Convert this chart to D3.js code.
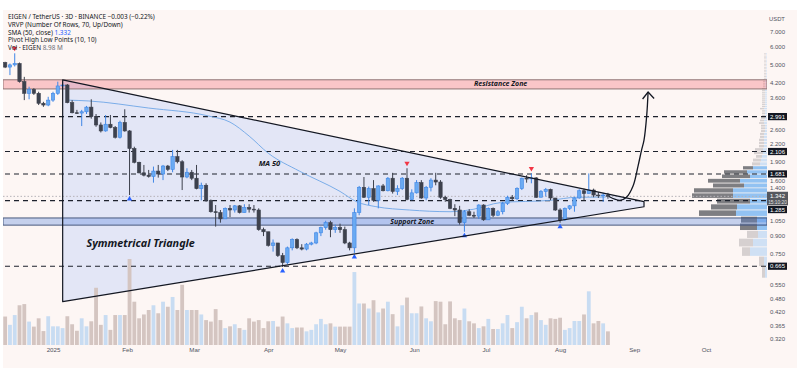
<!DOCTYPE html>
<html><head><meta charset="utf-8">
<script src="https://cdn.jsdelivr.net/npm/d3@7"></script>
<style>html,body{margin:0;padding:0;background:#fff}svg{display:block}</style>
</head><body>
<svg id="chart" width="800" height="381"></svg>
<script>
// ---------------- DATA ----------------
const firstCandleDate = "2024-12-12";
const candleStepDays = 2;
const candleOpen = [5.15,4.92,5.03,5.10,4.25,3.78,3.93,3.78,3.42,3.36,
 3.53,3.78,4.07,4.11,3.44,3.11,3.10,3.14,3.29,2.99,
 2.75,2.59,2.77,2.68,2.43,2.82,2.59,2.17,1.89,1.70,
 1.66,1.64,1.73,1.68,1.82,1.76,2.00,1.90,1.63,1.71,
 1.61,1.45,1.50,1.29,1.15,1.14,1.07,1.19,1.17,1.22,
 1.14,1.20,1.18,1.17,0.96,0.94,0.82,0.84,0.74,0.69,
 0.80,0.87,0.80,0.79,0.83,0.84,0.93,0.98,1.03,0.96,
 0.98,0.96,0.84,0.80,1.14,1.47,1.33,1.45,1.29,1.49,
 1.42,1.61,1.41,1.45,1.61,1.30,1.39,1.54,1.32,1.47,
 1.58,1.55,1.33,1.30,1.19,1.17,1.03,1.15,1.11,1.10,
 1.23,1.06,1.19,1.11,1.15,1.25,1.33,1.31,1.45,1.61,
 1.60,1.615,1.33,1.41,1.44,1.32,1.17,1.06,1.19,1.22,
 1.32,1.42,1.38,1.43,1.36,1.35,1.36];
const candleClose = [4.92,5.03,5.10,4.25,3.78,3.93,3.78,3.42,3.36,3.53,
 3.78,4.07,4.11,3.44,3.11,3.10,3.14,3.29,2.99,2.75,
 2.59,2.77,2.68,2.43,2.82,2.59,2.17,1.89,1.70,1.66,
 1.64,1.73,1.68,1.82,1.76,2.00,1.90,1.63,1.71,1.61,
 1.45,1.50,1.29,1.15,1.14,1.07,1.19,1.17,1.22,1.14,
 1.20,1.18,1.17,0.96,0.94,0.82,0.84,0.74,0.69,0.80,
 0.87,0.80,0.79,0.83,0.84,0.93,0.98,1.03,0.96,0.98,
 0.96,0.84,0.80,1.14,1.47,1.33,1.45,1.29,1.49,1.42,
 1.61,1.41,1.45,1.61,1.30,1.39,1.54,1.32,1.47,1.58,
 1.55,1.33,1.30,1.19,1.17,1.03,1.15,1.11,1.10,1.23,
 1.06,1.19,1.11,1.15,1.25,1.33,1.31,1.45,1.61,1.60,
 1.615,1.33,1.41,1.44,1.32,1.17,1.06,1.19,1.22,1.32,
 1.42,1.38,1.43,1.36,1.35,1.36,1.342];
const candleHigh = [5.19,5.10,5.65,5.15,4.46,4.04,3.98,3.84,3.47,3.65,
 3.84,4.25,4.24,4.15,3.53,3.20,3.20,3.33,3.56,3.07,
 2.82,3.04,3.04,2.72,2.87,3.22,2.61,2.21,1.90,1.84,
 1.75,1.81,1.84,1.84,1.84,2.14,2.14,1.93,1.78,1.75,
 1.84,1.54,1.53,1.30,1.23,1.17,1.20,1.23,1.23,1.23,
 1.24,1.24,1.23,1.19,0.98,0.94,0.87,0.84,0.76,0.81,
 0.88,0.88,0.83,0.84,0.85,0.94,0.99,1.05,1.05,1.01,
 1.02,0.99,0.85,1.19,1.49,1.63,1.48,1.58,1.50,1.52,
 1.63,1.70,1.50,1.63,1.78,1.44,1.58,1.58,1.49,1.61,
 1.70,1.58,1.35,1.31,1.24,1.22,1.17,1.18,1.15,1.24,
 1.24,1.20,1.20,1.17,1.27,1.35,1.36,1.47,1.62,1.66,
 1.69,1.63,1.43,1.46,1.45,1.32,1.19,1.20,1.23,1.33,
 1.44,1.45,1.69,1.45,1.40,1.39,1.39];
const candleLow = [4.87,4.54,4.95,4.21,3.53,3.56,3.72,3.36,3.30,3.32,
 3.47,3.72,3.95,3.42,3.09,3.07,2.72,3.07,2.93,2.70,
 2.55,2.57,2.66,2.40,2.40,2.57,1.36,1.87,1.69,1.64,
 1.62,1.54,1.62,1.58,1.73,1.71,1.87,1.43,1.61,1.58,
 1.44,1.29,1.27,1.14,0.99,1.03,1.07,1.09,1.14,1.13,
 1.14,1.14,1.14,0.95,0.90,0.81,0.77,0.73,0.66,0.68,
 0.78,0.79,0.78,0.78,0.82,0.83,0.90,0.96,0.89,0.93,
 0.93,0.83,0.78,0.76,1.11,1.32,1.23,1.27,1.19,1.41,
 1.41,1.38,1.36,1.43,1.29,1.29,1.38,1.31,1.29,1.41,
 1.50,1.31,1.27,1.18,1.10,1.01,0.94,1.10,1.08,1.07,
 1.05,1.06,1.09,1.10,1.12,1.23,1.29,1.29,1.43,1.54,
 1.53,1.32,1.33,1.34,1.29,1.16,1.03,1.05,1.17,1.15,
 1.31,1.29,1.38,1.33,1.32,1.27,1.31];
const volumeM = [9.6,6.8,10.1,13.4,13.8,7.9,6.2,9.0,4.7,9.7,
 6.3,6.3,5.7,9.7,7.0,4.8,9.0,6.3,8.0,19.3,
 6.8,10.1,5.1,10.1,10.1,10.1,29.0,14.6,9.0,10.3,
 11.8,13.4,10.7,14.6,12.9,16.2,11.8,20.3,11.8,11.8,
 11.8,10.3,8.4,7.9,12.1,8.4,5.7,6.3,7.0,5.7,
 5.1,9.0,7.9,8.4,5.7,8.0,8.1,6.2,9.6,7.3,
 5.7,5.9,5.9,4.6,5.1,7.0,8.8,7.0,7.3,6.2,
 6.2,6.2,6.2,24.6,14.0,14.0,12.3,15.1,11.0,12.3,
 14.6,10.4,6.3,13.4,16.0,10.7,10.7,13.0,9.0,8.0,
 14.8,14.6,7.0,14.7,9.0,8.4,12.3,8.0,7.3,5.7,
 6.3,8.8,5.4,5.4,7.3,10.1,5.7,7.7,12.9,9.0,
 10.1,11.0,8.4,6.8,9.0,8.8,9.2,5.1,5.7,8.1,
 8.1,10.3,18.1,7.3,8.1,7.3,4.6];
// pivot points (candle numbers, 1-based)
const pivotHighs = [3,85,111];
const pivotLows = [27,59,74,97,117];
// SMA 50
const maDate = ["2025-01-07","2025-01-16","2025-02-10","2025-03-07","2025-03-16","2025-03-24","2025-04-01","2025-04-14","2025-05-01","2025-05-08","2025-05-16","2025-05-30","2025-06-16","2025-06-26","2025-07-07","2025-07-28","2025-08-08","2025-08-20"];
const maValue = [3.53,3.50,3.26,3.01,2.83,2.46,2.07,1.73,1.41,1.27,1.21,1.17,1.15,1.18,1.26,1.29,1.33,1.332];
// volume profile rows (lower price bound), up and down volume
const vpRowLow = [0.590,0.663,0.735,0.808,0.880,0.953,1.026,1.098,1.171,1.243,1.316,1.389,1.461,1.534,1.606,1.679,1.752,1.824,1.897,1.969,2.042,2.115,2.187,2.260,2.332,2.405,2.478,2.550,2.623,2.695,2.768,2.841,2.913,2.986,3.058,3.131,3.204,3.276,3.349,3.421,3.494,3.566,3.639,3.712,3.784,3.857,3.929,4.002,4.075,4.147,4.220,4.292,4.365,4.438,4.510,4.583,4.655,4.728,4.800,4.873,4.946,5.018,5.091,5.163,5.236,5.309,5.381,5.454,5.526,5.599];
const vpRowStep = 0.0726;
const vpUp = [2,3,17,14,9,10,10,31,30,17,34,34,23,27,17,20,14,7,6,5,4,4,3,3,3,3,3,2,2,2,3,3,2,2,2,2,3,2,2,2,2,2,2,2,2,2,2,2,2,2,2,2,1,1,1,1,1,1,1,1,1,1,1,1,1,1,1,1,1,1];
const vpDown = [3,5,8,14,11,17,16,37,26,33,41,39,31,32,28,23,10,8,8,6,9,8,5,5,5,4,4,4,4,4,5,4,4,3,3,3,4,3,3,3,3,3,3,3,3,3,3,2,2,2,2,2,2,2,2,2,2,2,2,2,2,2,2,2,2,2,2,2,2,2];
const valueAreaLow = 0.953, valueAreaHigh = 1.824;
// levels & zones
const dashedLevels = [2.991,2.106,1.681,1.285,0.665];
const resistanceZone = [3.95,4.33];
const supportZone = [1.005,1.08];
const lastPrice = 1.342;
const countdown = "15:10:20";
const priceTicks = [7,6,5,4.2,3.6,2.6,2.2,1.9,1.6,1.4,1.05,0.9,0.75,0.55,0.48,0.42,0.365,0.32];
const monthTicks = ["2025-01-01","2025-02-01","2025-03-01","2025-04-01","2025-05-01","2025-06-01","2025-07-01","2025-08-01","2025-09-01","2025-10-01"];
// drawing: symmetrical triangle (date, price)
const triDate = ["2025-01-05T01:00Z","2025-09-05T02:00Z","2025-09-05T02:00Z","2025-01-05T01:00Z"];
const triPrice = [4.33,1.272,1.209,0.466];
// projection arrow
const arrowDate = ["2025-08-21T10:00Z","2025-08-26T00:00Z","2025-08-28T18:00Z","2025-08-31T12:00Z","2025-09-02T14:00Z","2025-09-04T02:00Z","2025-09-05T02:00Z","2025-09-06T05:00Z","2025-09-06T19:00Z"];
const arrowPrice = [1.34,1.29,1.33,1.49,1.82,2.14,2.36,3.02,3.83];
// annotations
const notes = [
 {text:"Symmetrical Triangle", date:"2025-01-15", price:0.806, size:10.8},
 {text:"MA 50", date:"2025-03-28", price:1.82, size:7.5},
 {text:"Resistance Zone", date:"2025-06-26", price:4.05, size:7},
 {text:"Support Zone", date:"2025-05-22", price:1.02, size:7}
];
const legendLines = [
 [["EIGEN / TetherUS · 3D · BINANCE  ","#131722"],["−0.003 (−0.22%)","#131722"]],
 [["VRVP (Number Of Rows, 70, Up/Down)","#131722"]],
 [["SMA (50, close)  ","#131722"],["1.332","#2962ff"]],
 [["Pivot High Low Points (10, 10)","#131722"]],
 [["Vol · EIGEN  ","#131722"],["8.98 M","#6b6e78"]]
];

// ---------------- CHART ----------------
const svg = d3.select("#chart");
const FONT = "'Noto Sans', 'Liberation Sans', sans-serif";
const AFONT = "'Liberation Sans', Arial, sans-serif";
const paneL = 3, paneR = 767, paneT = 10, paneB = 347;
const iso = s => new Date(s.length === 10 ? s + "T00:00:00Z" : s);
const x = d3.scaleUtc().domain([iso("2025-01-01"), iso("2025-10-01")]).range([53, 706]);
const y = d3.scaleLog().domain([0.32, 7]).range([339, 32]);
const yv = d3.scaleLinear().domain([0, 29]).range([345, 259]);
const vpX = d3.scaleLinear().domain([0, 80]).range([0, 80]);

const t0 = iso(firstCandleDate).getTime();
const candles = candleClose.map((c, i) => ({
  date: new Date(t0 + i * candleStepDays * 864e5),
  o: candleOpen[i], h: candleHigh[i], l: candleLow[i], c: c, v: volumeM[i]
}));
const step = x(new Date(t0 + candleStepDays * 864e5)) - x(new Date(t0));
const bodyW = step * 0.7, volW = step * 0.8;

svg.append("rect").attr("x", 3).attr("y", 10).attr("width", 794).attr("height", 358).attr("fill", "#fdf6f4");
svg.append("defs").append("clipPath").attr("id", "pane").append("rect")
  .attr("x", paneL).attr("y", paneT).attr("width", paneR - paneL).attr("height", paneB - paneT);
const g = svg.append("g").attr("clip-path", "url(#pane)");

// volume profile
const vp = vpRowLow.map((p, i) => ({lo: p, hi: p + vpRowStep, up: vpUp[i], down: vpDown[i], va: p >= valueAreaLow - 1e-6 && p < valueAreaHigh}));
const vpG = g.append("g");
vp.forEach(r => {
  const yt = y(r.hi) + 0.4, h = Math.max(0.6, y(r.lo) - y(r.hi) - 0.8);
  vpG.append("rect").attr("x", paneR - vpX(r.up + r.down)).attr("y", yt).attr("width", vpX(r.down)).attr("height", h)
    .attr("fill", r.va ? "#7e7e82" : "#d6d0d0");
  vpG.append("rect").attr("x", paneR - vpX(r.up)).attr("y", yt).attr("width", vpX(r.up)).attr("height", h)
    .attr("fill", r.va ? "#92c2f2" : "#cfe0f4");
});

// triangle fill
const triPts = triDate.map((d, i) => [x(iso(d)), y(triPrice[i])]);
g.append("polygon").attr("points", triPts.map(p => p.join(",")).join(" ")).attr("fill", "#e3e6f6");

// zones
g.append("rect").attr("x", paneL).attr("width", paneR - paneL)
  .attr("y", y(resistanceZone[1])).attr("height", y(resistanceZone[0]) - y(resistanceZone[1]))
  .attr("fill", "rgba(242,54,69,0.25)").attr("stroke", "#8f7474").attr("stroke-width", 1);
g.append("rect").attr("x", paneL).attr("width", paneR - paneL)
  .attr("y", y(supportZone[1])).attr("height", y(supportZone[0]) - y(supportZone[1]))
  .attr("fill", "rgba(70,120,220,0.3)").attr("stroke", "#4a5a7e").attr("stroke-width", 1);

// last price dotted line
g.append("line").attr("x1", paneL).attr("x2", paneR).attr("y1", y(lastPrice)).attr("y2", y(lastPrice))
  .attr("stroke", "#b5b3b8").attr("stroke-dasharray", "1.5,2").attr("stroke-width", 1);

// volume bars
g.selectAll(".vol").data(candles).join("rect")
  .attr("x", d => x(d.date) - volW / 2).attr("width", volW)
  .attr("y", d => yv(d.v)).attr("height", d => yv(0) - yv(d.v))
  .attr("fill", d => d.c >= d.o ? "#c8dcf2" : "#d4c5c1");

// dashed levels
g.selectAll(".lvl").data(dashedLevels).join("line")
  .attr("x1", 5).attr("x2", paneR).attr("y1", d => y(d)).attr("y2", d => y(d))
  .attr("stroke", "#1e222d").attr("stroke-width", 1.1).attr("stroke-dasharray", "5,4");

// MA 50
g.append("path").datum(maDate.map((d, i) => [x(iso(d)), y(maValue[i])]))
  .attr("d", d3.line().curve(d3.curveMonotoneX)).attr("fill", "none")
  .attr("stroke", "#6ea6e6").attr("stroke-width", 0.9);

// candles
const up = d => d.c >= d.o;
const cg = g.append("g");
cg.selectAll(".wick").data(candles).join("line")
  .attr("x1", d => x(d.date)).attr("x2", d => x(d.date))
  .attr("y1", d => y(d.h)).attr("y2", d => y(d.l))
  .attr("stroke", d => up(d) ? "#3f86e6" : "#3d414d").attr("stroke-width", 1);
cg.selectAll(".body").data(candles).join("rect")
  .attr("x", d => x(d.date) - bodyW / 2).attr("width", bodyW)
  .attr("y", d => y(Math.max(d.o, d.c))).attr("height", d => Math.max(0.8, Math.abs(y(d.o) - y(d.c))))
  .attr("fill", d => up(d) ? "#6aaaf2" : "#3d414d")
  .attr("stroke", d => up(d) ? "#3f86e6" : "#3d414d").attr("stroke-width", 0.6);

// pivots
const tri = d3.symbol().type(d3.symbolTriangle).size(12);
pivotHighs.forEach(n => {
  const d = candles[n - 1];
  g.append("path").attr("d", tri).attr("fill", "#f23645")
    .attr("transform", `translate(${x(d.date)},${y(d.h) - 5}) rotate(180)`);
});
pivotLows.forEach(n => {
  const d = candles[n - 1];
  g.append("path").attr("d", tri).attr("fill", "#2962ff")
    .attr("transform", `translate(${x(d.date)},${y(d.l) + 4})`);
});

// triangle outline
g.append("polygon").attr("points", triPts.map(p => p.join(",")).join(" "))
  .attr("fill", "none").attr("stroke", "#131722").attr("stroke-width", 1.2).attr("stroke-linejoin", "round");

// arrow
const arrPts = arrowDate.map((d, i) => [x(iso(d)), y(arrowPrice[i])]);
g.append("path").datum(arrPts).attr("d", d3.line().curve(d3.curveCatmullRom))
  .attr("fill", "none").attr("stroke", "#131722").attr("stroke-width", 1.3);
const tip = arrPts[arrPts.length - 1];
g.append("path").attr("d", `M${tip[0] - 5.5},${tip[1] + 7} L${tip[0]},${tip[1]} L${tip[0] + 6},${tip[1] + 6.5}`)
  .attr("fill", "none").attr("stroke", "#131722").attr("stroke-width", 1.3);

// annotation texts
notes.forEach(n => {
  g.append("text").attr("x", x(iso(n.date))).attr("y", y(n.price)).text(n.text)
    .attr("font-family", FONT).attr("font-style", "italic").attr("font-weight", 700)
    .attr("font-size", n.size).attr("fill", "#131722");
});

// legend
legendLines.forEach((parts, i) => {
  const t = svg.append("text").attr("x", 8).attr("y", 19 + i * 7.8)
    .attr("font-family", FONT).attr("font-size", 6.4);
  parts.forEach(p => t.append("tspan").text(p[0]).attr("fill", p[1]));
});

// boxed labels positions (last price box pushes colliding level boxes down)
const lpY = y(lastPrice);
const lpTop = lpY - 4.6, lpBot = lpY + 9;
const boxes = dashedLevels.map(p => {
  let cy = y(p);
  if (cy + 3.6 > lpTop && cy - 3.6 < lpBot) cy = lpBot + 4.2;
  return {p, cy, top: cy - 3.6, bot: cy + 3.6};
});
const allBoxes = boxes.concat([{top: lpTop, bot: lpBot, cy: (lpTop + lpBot) / 2}]);

// right price axis (tick labels nudged off the boxes)
const ax = svg.append("g").attr("transform", "translate(770,0)")
  .call(d3.axisRight(y).tickValues(priceTicks).tickFormat(d3.format(".3f")).tickSize(0).tickPadding(0));
ax.select(".domain").remove();
const HH = 3.3;
ax.selectAll(".tick").each(function(d) {
  let cy = y(d);
  allBoxes.forEach(b => {
    if (cy + HH > b.top && cy - HH < b.bot) cy = cy < b.cy ? b.top - HH - 0.1 : b.bot + HH + 0.1;
  });
  d3.select(this).attr("transform", `translate(0,${cy})`);
});
ax.selectAll("text").attr("font-family", AFONT).attr("font-size", 6).attr("fill", "#50535e");
svg.append("text").attr("x", 777).attr("y", 21).attr("text-anchor", "middle").text("USDT")
  .attr("font-family", AFONT).attr("font-size", 5.8).attr("fill", "#50535e");

boxes.forEach(b => {
  svg.append("rect").attr("x", 768).attr("y", b.top).attr("width", 19).attr("height", b.bot - b.top).attr("fill", "#131722");
  svg.append("text").attr("x", 777.5).attr("y", b.cy + 2.1).attr("text-anchor", "middle").text(d3.format(".3f")(b.p))
    .attr("font-family", AFONT).attr("font-size", 6).attr("fill", "#fff");
});
svg.append("rect").attr("x", 767).attr("y", lpTop).attr("width", 21).attr("height", lpBot - lpTop).attr("fill", "#55575e");
svg.append("text").attr("x", 777.5).attr("y", lpY + 1.9).attr("text-anchor", "middle").text(d3.format(".3f")(lastPrice))
  .attr("font-family", AFONT).attr("font-size", 6).attr("fill", "#fff");
svg.append("text").attr("x", 777.5).attr("y", lpY + 7.4).attr("text-anchor", "middle").text(countdown)
  .attr("font-family", AFONT).attr("font-size", 4.8).attr("fill", "#e0e0e0");

// bottom time axis
const bx = svg.append("g").attr("transform", `translate(0,${paneB})`)
  .call(d3.axisBottom(x).tickValues(monthTicks.map(iso)).tickSize(0).tickPadding(1)
    .tickFormat(d => d.getUTCMonth() === 0 ? String(d.getUTCFullYear()) : d3.utcFormat("%b")(d)));
bx.select(".domain").remove();
bx.selectAll("text").attr("font-family", AFONT).attr("font-size", 6.2).attr("fill", "#50535e");
</script>
</body></html>
